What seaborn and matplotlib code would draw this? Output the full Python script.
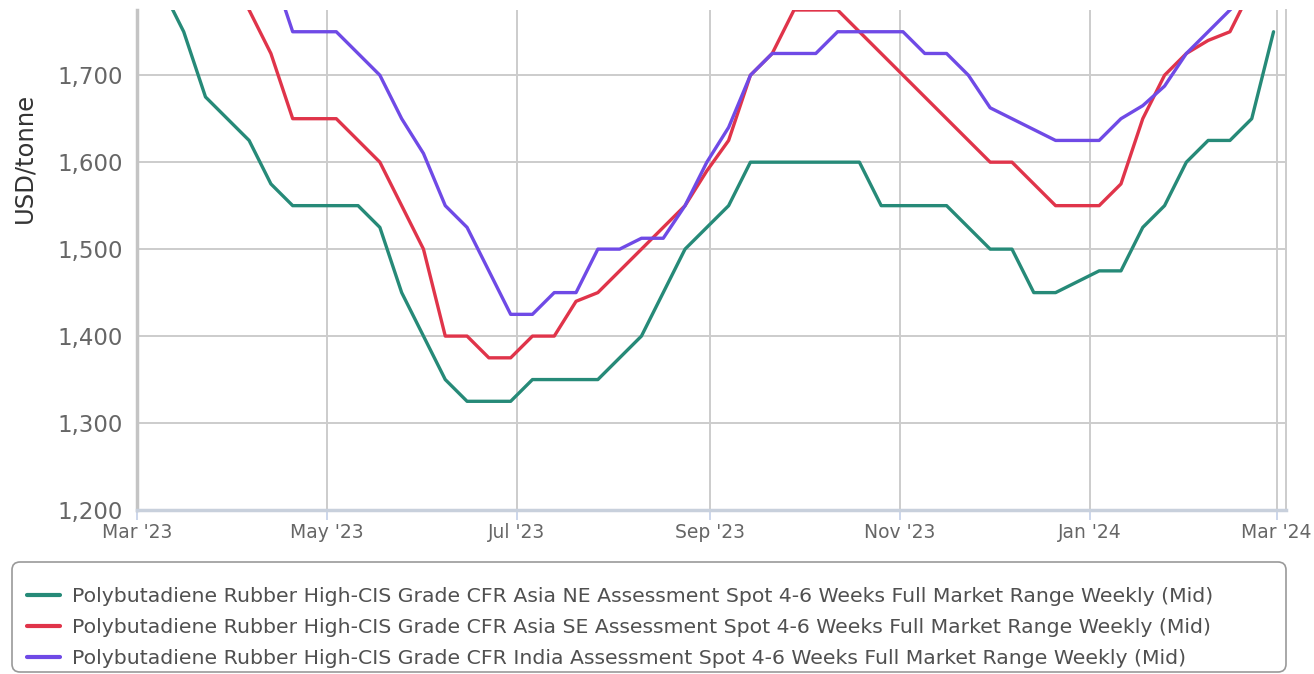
import pandas as pd
import matplotlib.pyplot as plt
import matplotlib.dates as mdates
import matplotlib.ticker as mticker
from matplotlib.patches import FancyBboxPatch
from matplotlib.transforms import IdentityTransform
import seaborn as sns

# weekly assessments, Thursdays
start_date = "2023-03-02"
n_weeks = 53

series_names = [
    "Polybutadiene Rubber High-CIS Grade CFR Asia NE Assessment Spot 4-6 Weeks Full Market Range Weekly (Mid)",
    "Polybutadiene Rubber High-CIS Grade CFR Asia SE Assessment Spot 4-6 Weeks Full Market Range Weekly (Mid)",
    "Polybutadiene Rubber High-CIS Grade CFR India Assessment Spot 4-6 Weeks Full Market Range Weekly (Mid)",
]

asia_ne = [1850, 1800, 1750, 1675, 1650, 1625, 1575, 1550, 1550, 1550,
           1550, 1525, 1450, 1400, 1350, 1325, 1325, 1325, 1350, 1350,
           1350, 1350, 1375, 1400, 1450, 1500, 1525, 1550, 1600, 1600,
           1600, 1600, 1600, 1600, 1550, 1550, 1550, 1550, 1525, 1500,
           1500, 1450, 1450, 1462.5, 1475, 1475, 1525, 1550, 1600, 1625,
           1625, 1650, 1750]

asia_se = [1900, 1900, 1875, 1850, 1825, 1775, 1725, 1650, 1650, 1650,
           1625, 1600, 1550, 1500, 1400, 1400, 1375, 1375, 1400, 1400,
           1440, 1450, 1475, 1500, 1525, 1550, 1590, 1625, 1700, 1725,
           1775, 1775, 1775, 1750, 1725, 1700, 1675, 1650, 1625, 1600,
           1600, 1575, 1550, 1550, 1550, 1575, 1650, 1700, 1725, 1740,
           1750, 1800, 1800]

india = [1950, 1950, 1925, 1900, 1875, 1850, 1825, 1750, 1750, 1750,
         1725, 1700, 1650, 1610, 1550, 1525, 1475, 1425, 1425, 1450,
         1450, 1500, 1500, 1512.5, 1512.5, 1550, 1600, 1640, 1700, 1725,
         1725, 1725, 1750, 1750, 1750, 1750, 1725, 1725, 1700, 1662.5,
         1650, 1637.5, 1625, 1625, 1625, 1650, 1665, 1687.5, 1725, 1750,
         1775, 1800, 1825]

colors = ["#268a78", "#e0344a", "#6f4ae6"]

dates = pd.date_range(start_date, periods=n_weeks, freq="7D")
frames = []
for name, vals in zip(series_names, [asia_ne, asia_se, india]):
    frames.append(pd.DataFrame({"date": dates, "price": vals, "series": name}))
df = pd.concat(frames, ignore_index=True)

sns.set_style("whitegrid")
plt.rcParams["font.family"] = ["DejaVu Sans"]

fig = plt.figure(figsize=(13.14, 6.74), dpi=100)
ax = fig.add_axes([137 / 1314, 1 - 510 / 674, (1286 - 137) / 1314, 500 / 674])

sns.lineplot(data=df, x="date", y="price", hue="series", palette=colors,
             linewidth=2.4, ax=ax, legend=True)

ax.set_xlim(pd.Timestamp("2023-03-01"), pd.Timestamp("2024-03-04"))
ax.set_ylim(1200, 1775)
ax.set_yticks([1200, 1300, 1400, 1500, 1600, 1700])
ax.yaxis.set_major_formatter(mticker.StrMethodFormatter("{x:,.0f}"))
ax.xaxis.set_major_locator(mdates.MonthLocator(bymonth=[1, 3, 5, 7, 9, 11]))
ax.xaxis.set_major_formatter(mdates.DateFormatter("%b '%y"))

ax.grid(True, color="#cccccc", linewidth=1.4)
ax.set_xlabel("")
ax.set_ylabel("USD/tonne", fontsize=17.5, color="#333333")
# the label sits high, the screenshot cuts off the top of the plot
ax.yaxis.set_label_coords(-0.0875, 0.705)
ax.tick_params(axis="y", labelsize=16.5, labelcolor="#666666", length=3,
               color="#cccccc", pad=7)
ax.tick_params(axis="x", labelsize=13.5, labelcolor="#666666", length=7,
               color="#ccd6eb", width=1.4, pad=2, bottom=True)

ax.spines["top"].set_visible(False)
ax.spines["left"].set_color("#c4c4c4")
ax.spines["left"].set_linewidth(2.5)
ax.spines["bottom"].set_color("#c8d0dc")
ax.spines["bottom"].set_linewidth(2.5)
ax.spines["right"].set_color("#cccccc")
ax.spines["right"].set_linewidth(1.4)

# legend box drawn by hand (pixel units) so the rows can sit where they should
box = FancyBboxPatch((12, 2), 1274, 110, boxstyle="round,pad=0,rounding_size=8",
                     transform=IdentityTransform(), facecolor="white",
                     edgecolor="#999999", linewidth=1.2, zorder=0)
fig.add_artist(box)

handles, labels = ax.get_legend_handles_labels()
ax.get_legend().remove()
leg = fig.legend(handles, labels, loc="upper left",
                 bbox_to_anchor=(27 / 1314, 1 - 587 / 674),
                 fontsize=14.7, frameon=False, handlelength=1.6,
                 handletextpad=0.6, labelspacing=0.6, borderpad=0,
                 borderaxespad=0)
for txt in leg.get_texts():
    txt.set_color("#505050")
for line in leg.get_lines():
    line.set_linewidth(3)

fig.savefig("out.png", dpi=100)
